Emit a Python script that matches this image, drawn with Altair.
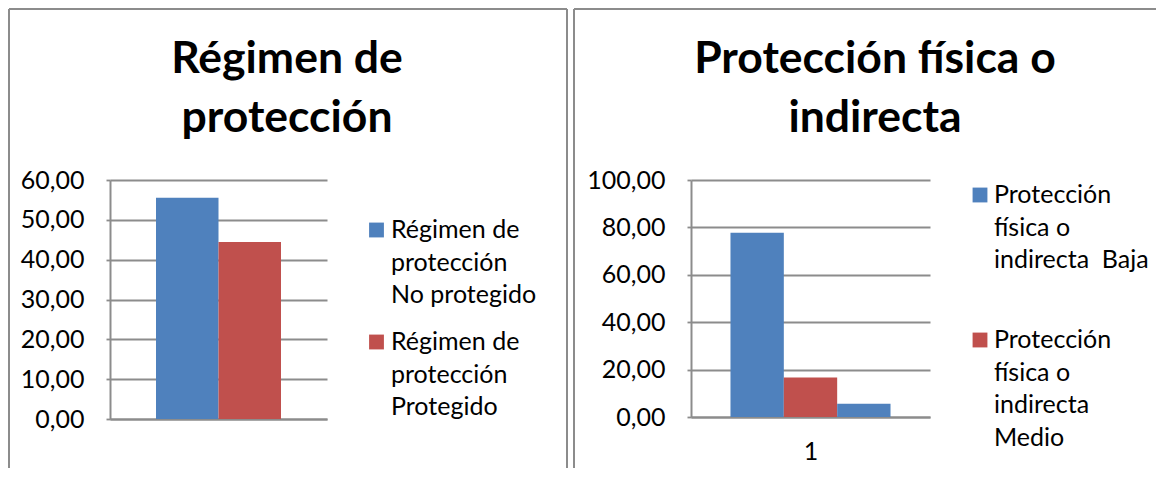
import altair as alt
import pandas as pd

# ---------------- data ----------------
left_title = ["Régimen de", "protección"]
left_series = ["Régimen de protección No protegido", "Régimen de protección Protegido"]
left_values = [55.56, 44.44]
left_legend = [["Régimen de", "protección", "No protegido"],
               ["Régimen de", "protección", "Protegido"]]
left_ticks = [0, 10, 20, 30, 40, 50, 60]
left_category = None

right_title = ["Protección física o", "indirecta"]
right_series = ["Protección física o indirecta  Baja",
                "Protección física o indirecta Medio",
                "Protección física o indirecta Alto"]
right_values = [77.78, 16.67, 5.56]
right_legend = [["Protección", "física o", "indirecta\u00a0\u00a0Baja"],
                ["Protección", "física o", "indirecta", "Medio"]]
right_ticks = [0, 20, 40, 60, 80, 100]
right_category = "1"

colors = ["#4F81BD", "#C0504D", "#9BBB59"]

FONT = "Lato"
GRAY = "#8c8c8c"
LABEL_SIZE = 25
TITLE_SIZE = 44.5

label_expr = "replace(format(datum.value, '.2f'), '.', ',')"


def panel(title, series, values, legend, ticks, category, w, h, pad_outer,
          title_x, leg_sq_x, leg_txt_x, leg_y0, leg_dy, left_edge, right_edge, right_border):
    df = pd.DataFrame({"series": series, "value": values})
    color_scale = alt.Scale(domain=series, range=colors[:len(series)])

    x_axis = alt.Axis(labels=False, ticks=False, domain=True,
                      domainColor=GRAY, domainWidth=2,
                      titleFont=FONT, titleFontSize=LABEL_SIZE, titleFontWeight="normal",
                      titleColor="black", titlePadding=22)

    bars = alt.Chart(df).mark_bar().encode(
        x=alt.X("series:N", title=category if category else None, sort=series,
                scale=alt.Scale(domain=series, paddingInner=0, paddingOuter=pad_outer),
                axis=x_axis),
        y=alt.Y("value:Q", title=None,
                scale=alt.Scale(domain=[ticks[0], ticks[-1]], nice=False, zero=True),
                axis=alt.Axis(values=ticks, labelExpr=label_expr, grid=True, gridColor=GRAY,
                              gridWidth=1.8, domain=True, domainColor=GRAY, domainWidth=2,
                              ticks=True, tickColor=GRAY, tickSize=4, tickWidth=1.8,
                              labelFont=FONT, labelFontSize=LABEL_SIZE, labelColor="black",
                              labelPadding=22)),
        color=alt.Color("series:N", scale=color_scale, legend=None),
    ).properties(width=w, height=h)

    layers = [bars]

    # title
    tdf = pd.DataFrame({"t": ["\n".join(title)]})
    layers.append(alt.Chart(tdf).mark_text(
        font=FONT, fontSize=TITLE_SIZE, fontWeight="bold", align="center",
        baseline="alphabetic", lineBreak="\n", lineHeight=59, color="black"
    ).encode(text="t:N", x=alt.value(title_x), y=alt.value(-107)))

    # legend
    ldf = pd.DataFrame({"series": series[:len(legend)],
                        "label": ["\n".join(l) for l in legend]})
    for i, s in enumerate(series[:len(legend)]):
        base = alt.Chart(ldf).transform_filter(alt.datum.series == s)
        layers.append(base.mark_square(size=220, opacity=1).encode(
            x=alt.value(leg_sq_x), y=alt.value(leg_y0 - 8 + i * leg_dy),
            color=alt.Color("series:N", scale=color_scale, legend=None)))
        layers.append(base.mark_text(
            font=FONT, fontSize=LABEL_SIZE, align="left", baseline="alphabetic",
            lineBreak="\n", lineHeight=32.5, color="black"
        ).encode(text="label:N", x=alt.value(leg_txt_x), y=alt.value(leg_y0 + i * leg_dy)))

    # panel border (top, left, right)
    bdf = pd.DataFrame({"k": [0]})
    top, bottom = -171, 288
    layers.append(alt.Chart(bdf).mark_rule(color=GRAY, strokeWidth=2).encode(
        x=alt.value(left_edge), x2=alt.value(right_edge), y=alt.value(top)))
    layers.append(alt.Chart(bdf).mark_rule(color=GRAY, strokeWidth=2).encode(
        x=alt.value(left_edge), y=alt.value(top), y2=alt.value(bottom)))
    if right_border:
        layers.append(alt.Chart(bdf).mark_rule(color=GRAY, strokeWidth=2).encode(
            x=alt.value(right_edge), y=alt.value(top), y2=alt.value(bottom)))

    return alt.layer(*layers)


left = panel(left_title, left_series, left_values, left_legend, left_ticks, left_category,
             w=217, h=239, pad_outer=0.736,
             title_x=177, leg_sq_x=266.5, leg_txt_x=281, leg_y0=58, leg_dy=112,
             left_edge=-101, right_edge=457, right_border=True)

right = panel(right_title, right_series, right_values, right_legend, right_ticks, right_category,
              w=239, h=237, pad_outer=0.74,
              title_x=184, leg_sq_x=289, leg_txt_x=303, leg_y0=23, leg_dy=145,
              left_edge=-117, right_edge=465, right_border=False)

chart = alt.hconcat(left, right, spacing=5).properties(padding=0).configure_view(stroke=None)

chart.save("out.html", embed_options={"renderer": "svg", "actions": False})
